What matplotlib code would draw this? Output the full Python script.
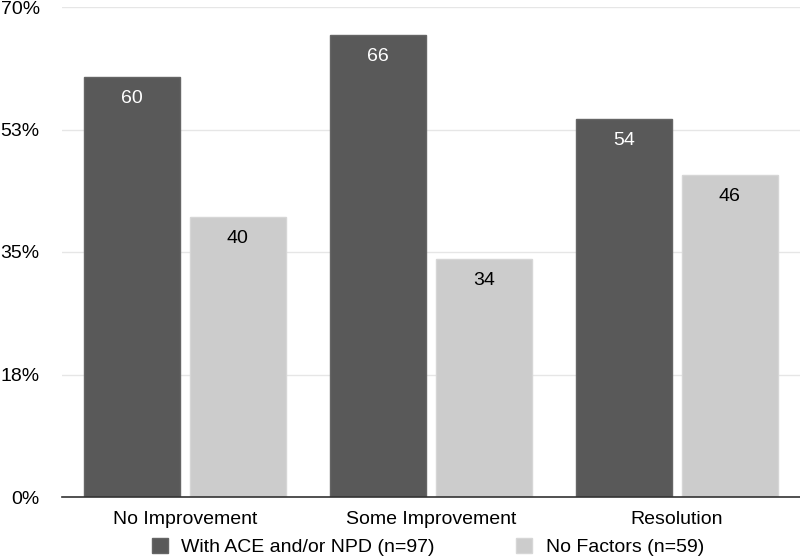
import matplotlib.pyplot as plt
import numpy as np

categories = ['No Improvement', 'Some Improvement', 'Resolution']
with_factors = [60, 66, 54]
no_factors = [40, 34, 46]
series_names = ['With ACE and/or NPD (n=97)', 'No Factors (n=59)']
y_ticks = [0, 17.5, 35, 52.5, 70]
y_labels = ['0%', '18%', '35%', '53%', '70%']

plt.rcParams['font.family'] = ['Liberation Sans', 'DejaVu Sans']

fig = plt.figure(figsize=(8, 5.6), dpi=100)
ax = fig.add_axes([0.0775, 0.1125, 0.9225, 0.875])

x = np.arange(len(categories))
w = 0.39
off = 0.215
dark = '#595959'
light = '#cccccc'

b1 = ax.bar(x - off, with_factors, w, color=dark, edgecolor='#656565', linewidth=1, zorder=3,
            label=series_names[0])
b2 = ax.bar(x + off, no_factors, w, color=light, edgecolor='#d6d6d6', linewidth=1, zorder=3,
            label=series_names[1])

for bar, v in zip(b1, with_factors):
    ax.text(bar.get_x() + bar.get_width() / 2, v - 1.9, str(v), ha='center', va='top',
            color='white', fontsize=14, zorder=4)
for bar, v in zip(b2, no_factors):
    ax.text(bar.get_x() + bar.get_width() / 2, v - 1.9, str(v), ha='center', va='top',
            color='black', fontsize=14, zorder=4)

ax.set_xlim(-0.5, 2.5)
ax.set_ylim(0, 70)
ax.set_yticks(y_ticks)
ax.set_yticklabels(y_labels, fontsize=14)
ax.set_xticks(x)
ax.set_xticklabels(categories, fontsize=14)
ax.tick_params(axis='y', length=0, pad=16)
ax.tick_params(axis='x', length=0, pad=10)
ax.yaxis.grid(True, color='#e6e6e6', linewidth=1, zorder=0)
for s in ['left', 'right', 'top']:
    ax.spines[s].set_visible(False)
ax.spines['bottom'].set_color('#333333')
ax.spines['bottom'].set_linewidth(1.2)
ax.spines['bottom'].set_zorder(5)

fig.legend(handles=[b1, b2], labels=series_names, loc='center', bbox_to_anchor=(0.535, 0.023),
           ncol=2, frameon=False, fontsize=14, handlelength=0.8, handleheight=0.8,
           columnspacing=4.2, handletextpad=0.7)

fig.savefig('out.png', dpi=100)
